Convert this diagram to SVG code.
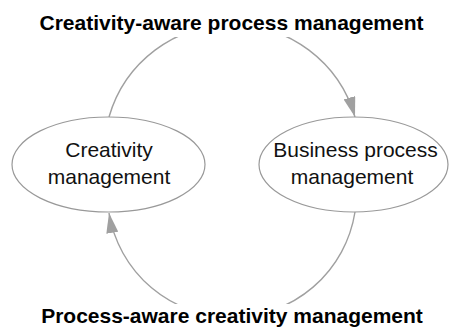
<svg xmlns="http://www.w3.org/2000/svg" width="449" height="329" viewBox="0 0 449 329">
  <style>
    .node ellipse { fill: #ffffff; stroke: #999999; stroke-width: 1.2; }
    .node text { font-family: "Liberation Sans", Arial, sans-serif; font-size: 21px; fill: #111111; text-anchor: middle; }
    .edge { fill: none; stroke: #a0a0a0; stroke-width: 1.4; }
    .label-bg { fill: #ffffff; }
    .label { font-family: "Liberation Sans", Arial, sans-serif; font-size: 21px; font-weight: bold; fill: #000000; text-anchor: middle; }
  </style>
  <defs>
    <marker id="arrow" viewBox="0 0 20 12" refX="20" refY="6" markerWidth="20" markerHeight="12" markerUnits="userSpaceOnUse" orient="auto">
      <path d="M0,0 L20,6 L0,12 Z" fill="#a0a0a0"/>
    </marker>
  </defs>
  <rect width="449" height="329" fill="#ffffff"/>

  <g id="connectors">
    <!-- Creativity management -> Business process management, over the top -->
    <path class="edge" d="M109,117 A128,128 0 0 1 355,117" marker-end="url(#arrow)"/>
    <!-- Business process management -> Creativity management, under the bottom -->
    <path class="edge" d="M355,212 A124.6,124.6 0 0 1 109,213" marker-end="url(#arrow)"/>
    <rect class="label-bg" x="36" y="8" width="392" height="29"/>
    <text class="label" x="231.5" y="30">Creativity-aware process management</text>
    <rect class="label-bg" x="36" y="304" width="392" height="25"/>
    <text class="label" x="232" y="323">Process-aware creativity management</text>
  </g>

  <g id="creativity-management" class="node">
    <ellipse cx="108.5" cy="164.5" rx="96.5" ry="47.5"/>
    <text x="109" y="157">Creativity</text>
    <text x="109" y="184">management</text>
  </g>

  <g id="business-process-management" class="node">
    <ellipse cx="353.5" cy="164.5" rx="94.5" ry="47.5"/>
    <text x="355.5" y="157">Business process</text>
    <text x="352" y="184">management</text>
  </g>
</svg>
